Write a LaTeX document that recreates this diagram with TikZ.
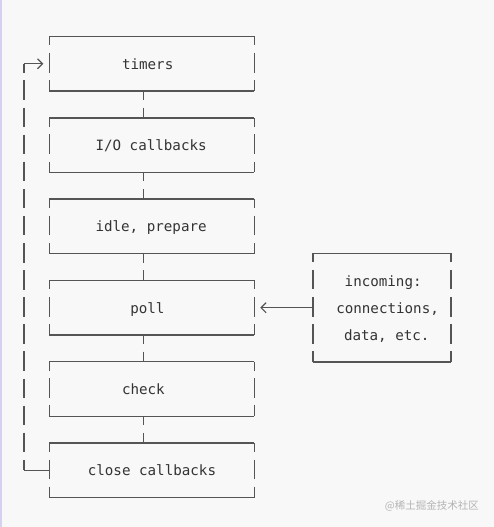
\documentclass[tikz,border=0pt]{standalone}
\usepackage{fontspec}
\setmonofont{DejaVu Sans Mono}
\newfontfamily\cjkwm{Noto Sans CJK SC}
\usetikzlibrary{arrows.meta}
\definecolor{bgc}{HTML}{F8F8F8}
\definecolor{stripc}{HTML}{D4D2EE}
\definecolor{linec}{HTML}{555555}
\definecolor{textc}{HTML}{343434}
\definecolor{wmc}{HTML}{B4B4B4}
\tikzset{
  box/.style={rectangle, draw=none, inner sep=0pt, minimum width=204.5pt, minimum height=54.2pt},
  inbox/.style={rectangle, draw=none, inner sep=0pt, minimum width=137.4pt, minimum height=108.4pt},
  hline/.style={draw=linec, line width=1.4pt},
  asciiv/.style={draw=linec, line width=1.4pt, dash pattern=on 19.5pt off 7.6pt, dash phase=10.5pt},
  lbl/.style={anchor=west, inner sep=0pt, text height=12pt, text depth=1pt, text=textc, font=\ttfamily\fontsize{14.2}{17}\selectfont},
  barb/.style={-{Straight Barb[length=5pt,width=10pt,line width=1.2pt]}},
}
\begin{document}
\begin{tikzpicture}[x=1pt,y=-1pt]
\fill[bgc] (0,0) rectangle (494,527);
\fill[stripc] (0,0) rectangle (2,527);
\useasboundingbox (0,0) rectangle (494,527);

\node[box] (timers) at (151.8,63.8) {};
\node[box] (io)     at (151.8,145.1) {};
\node[box] (idle)   at (151.8,226.4) {};
\node[box] (poll)   at (151.8,307.7) {};
\node[box] (check)  at (151.8,389.0) {};
\node[box] (close)  at (151.8,470.3) {};
\node[inbox] (incoming) at (382,307.7) {};

\foreach \n in {timers,io,idle,poll,check,close,incoming} {
  \draw[hline] (\n.north west) -- (\n.north east);
  \draw[hline] (\n.south west) -- (\n.south east);
  \draw[asciiv] (\n.north west) -- (\n.south west);
  \draw[asciiv] (\n.north east) -- (\n.south east);
}

\node[lbl] (t1) at ([xshift=72.5pt]timers.west) {timers};
\node[lbl] (t2) at ([xshift=46pt]io.west) {I/O callbacks};
\node[lbl] (t3) at ([xshift=46pt]idle.west) {idle, prepare};
\node[lbl] (t4) at ([xshift=80.7pt]poll.west) {poll};
\node[lbl] (t5) at ([xshift=72.5pt]check.west) {check};
\node[lbl] (t6) at ([xshift=38.3pt]close.west) {close callbacks};
\node[lbl] (t7) at ([xshift=31.4pt,yshift=27.1pt]incoming.west) {incoming:};
\node[lbl] (t8) at ([xshift=23pt]incoming.west) {connections,};
\node[lbl] (t9) at ([xshift=30.7pt,yshift=-27.1pt]incoming.west) {data, etc.};

\foreach \a/\b in {timers/io,io/idle,idle/poll,poll/check,check/close} {
  \draw[asciiv] ([xshift=-8.5pt]\a.south) -- ([xshift=-8.5pt]\b.north);
}

\draw[hline,barb] (incoming.west) -- ([xshift=6pt]poll.east);

\coordinate (lt) at (24,63.8);
\coordinate (lb) at (24,470.3);
\draw[asciiv] (lt) -- (lb);
\draw[hline] (lb) -- (close.west);
\draw[hline,barb] (lt) -- ([xshift=-6pt]timers.west);

\node[anchor=east, inner sep=0pt, text=wmc, font=\cjkwm\fontsize{10.5}{12}\selectfont] (wm) at (479,506) {@稀土掘金技术社区};
\end{tikzpicture}
\end{document}
